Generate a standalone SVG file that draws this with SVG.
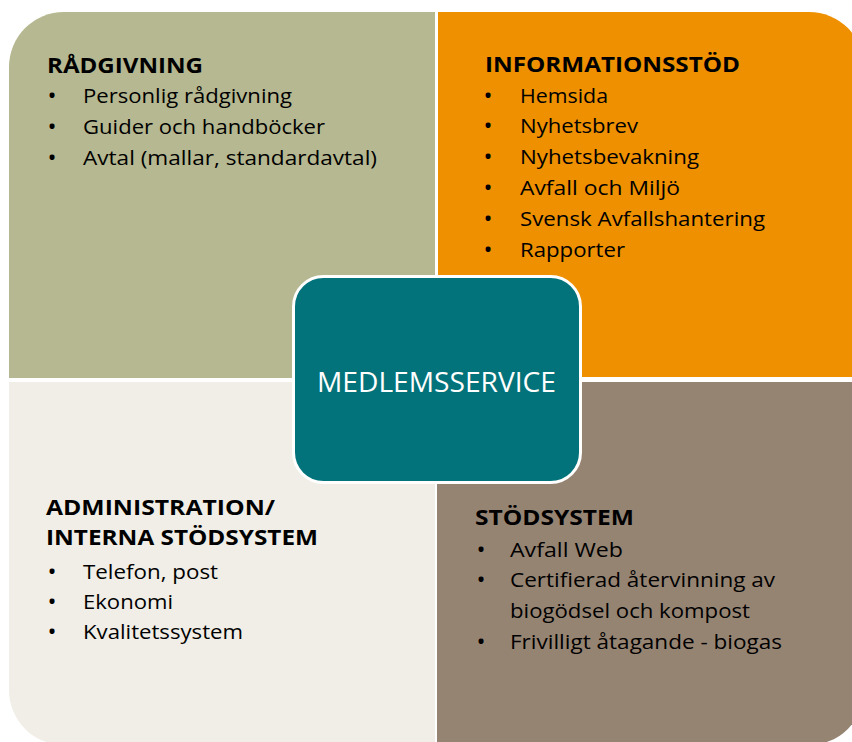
<svg xmlns="http://www.w3.org/2000/svg" width="852" height="742" viewBox="0 0 852 742">
<style>
text{font-family:"Open Sans","Liberation Sans",sans-serif;fill:#000}
.h{font-size:21px;font-weight:bold}
.i{font-size:20px}
.b{font-size:24px;text-anchor:middle}
.c{font-size:27px;fill:#fff}
</style>
<rect width="852" height="742" fill="#fff"/>
<g id="connectors"/>
<g id="radgivning">
<path d="M9,67 A55,55 0 0 1 64,12 L435,12 L435,378 L9,378 Z" fill="#b6b891"/>
<text class="h" x="47" y="73" textLength="156" lengthAdjust="spacingAndGlyphs">RÅDGIVNING</text>
<text class="b" x="52" y="104">•</text><text class="i" x="83" y="103" textLength="209" lengthAdjust="spacingAndGlyphs">Personlig rådgivning</text>
<text class="b" x="52" y="135">•</text><text class="i" x="83" y="134" textLength="242" lengthAdjust="spacingAndGlyphs">Guider och handböcker</text>
<text class="b" x="52" y="166">•</text><text class="i" x="83" y="165" textLength="294" lengthAdjust="spacingAndGlyphs">Avtal (mallar, standardavtal)</text>
</g>
<g id="informationsstod">
<path d="M438,12 L809,12 A55,55 0 0 1 864,67 L864,377 L438,377 Z" fill="#ee9000"/>
<text class="h" x="485" y="72" textLength="255" lengthAdjust="spacingAndGlyphs">INFORMATIONSSTÖD</text>
<text class="b" x="488" y="104">•</text><text class="i" x="520" y="103" textLength="88" lengthAdjust="spacingAndGlyphs">Hemsida</text>
<text class="b" x="488" y="134">•</text><text class="i" x="520" y="133" textLength="118" lengthAdjust="spacingAndGlyphs">Nyhetsbrev</text>
<text class="b" x="488" y="165">•</text><text class="i" x="520" y="164" textLength="179" lengthAdjust="spacingAndGlyphs">Nyhetsbevakning</text>
<text class="b" x="488" y="196">•</text><text class="i" x="520" y="195" textLength="160" lengthAdjust="spacingAndGlyphs">Avfall och Miljö</text>
<text class="b" x="488" y="227">•</text><text class="i" x="520" y="226" textLength="245" lengthAdjust="spacingAndGlyphs">Svensk Avfallshantering</text>
<text class="b" x="488" y="258">•</text><text class="i" x="520" y="257" textLength="105" lengthAdjust="spacingAndGlyphs">Rapporter</text>
</g>
<g id="administration">
<path d="M9,382 L435,382 L435,745 L64,745 A55,55 0 0 1 9,690 Z" fill="#f0eee6"/>
<text class="h" x="46" y="515" textLength="229" lengthAdjust="spacingAndGlyphs">ADMINISTRATION/</text>
<text class="h" x="46" y="545" textLength="272" lengthAdjust="spacingAndGlyphs">INTERNA STÖDSYSTEM</text>
<text class="b" x="52" y="580">•</text><text class="i" x="83" y="579" textLength="135" lengthAdjust="spacingAndGlyphs">Telefon, post</text>
<text class="b" x="52" y="610">•</text><text class="i" x="83" y="609" textLength="90" lengthAdjust="spacingAndGlyphs">Ekonomi</text>
<text class="b" x="52" y="640">•</text><text class="i" x="83" y="639" textLength="160" lengthAdjust="spacingAndGlyphs">Kvalitetssystem</text>
</g>
<g id="stodsystem">
<path d="M437,382 L864,382 L864,690 A55,55 0 0 1 809,745 L437,745 Z" fill="#968473"/>
<text class="h" x="475" y="525" textLength="159" lengthAdjust="spacingAndGlyphs">STÖDSYSTEM</text>
<text class="b" x="481" y="558">•</text><text class="i" x="510" y="557" textLength="113" lengthAdjust="spacingAndGlyphs">Avfall Web</text>
<text class="b" x="481" y="588">•</text><text class="i" x="510" y="587" textLength="265" lengthAdjust="spacingAndGlyphs">Certifierad återvinning av</text>
<text class="i" x="510" y="618" textLength="240" lengthAdjust="spacingAndGlyphs">biogödsel och kompost</text>
<text class="b" x="481" y="650">•</text><text class="i" x="510" y="649" textLength="272" lengthAdjust="spacingAndGlyphs">Frivilligt åtagande - biogas</text>
</g>
<g id="medlemsservice">
<rect x="293.5" y="276.5" width="287" height="206" rx="30" fill="#03737b" stroke="#fff" stroke-width="3"/>
<text class="c" x="317" y="392" textLength="239" lengthAdjust="spacingAndGlyphs">MEDLEMSSERVICE</text>
</g>
</svg>
